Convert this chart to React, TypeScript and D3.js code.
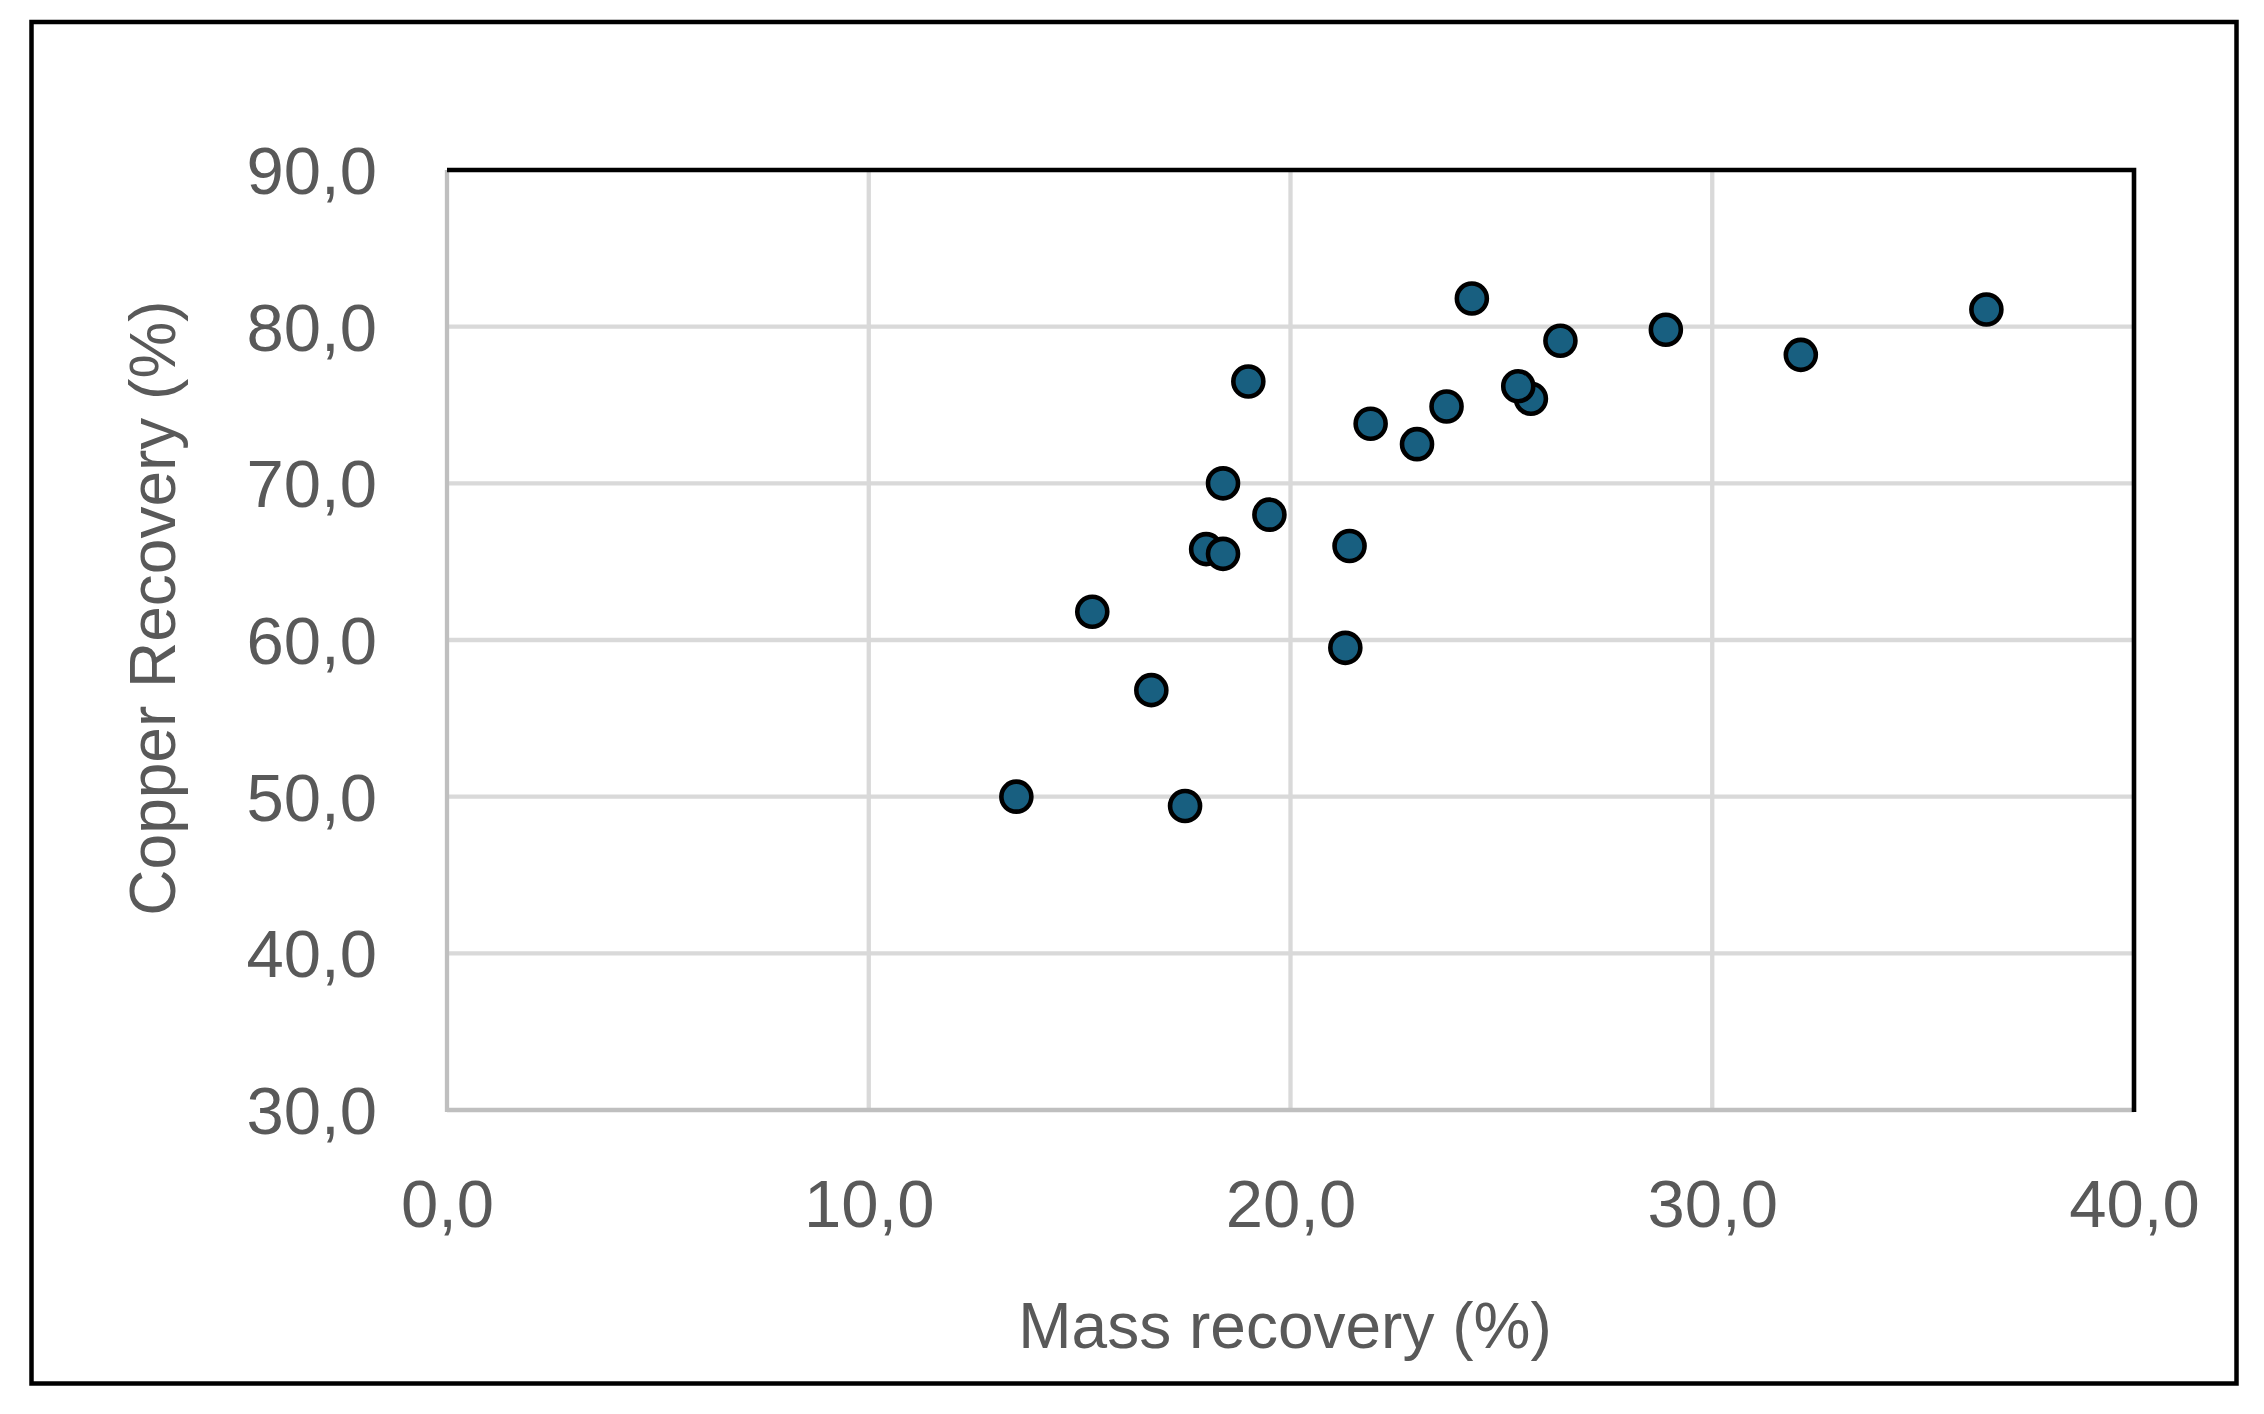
import React, { useRef, useEffect } from "react";
import * as d3 from "d3";

// Mass recovery (%) vs copper recovery (%) per test
const massRecovery = [
  13.5, 15.3, 16.7, 17.5, 18.0, 18.4, 18.4, 19.0, 19.5, 21.3, 21.4, 21.9, 23.0, 23.7, 24.3, 25.7, 25.4, 26.4,
  28.9, 32.1, 36.5,
];
const copperRecovery = [
  50.0, 61.8, 56.8, 49.4, 65.8, 65.5, 70.0, 76.5, 68.0, 59.5, 66.0, 73.8, 72.5, 74.9, 81.8, 75.4, 76.2, 79.1,
  79.8, 78.2, 81.1,
];
const xTicks = [0, 10, 20, 30, 40];
const yTicks = [30, 40, 50, 60, 70, 80, 90];

const width = 2264;
const height = 1414;
const font = "'Liberation Sans', Arial, sans-serif";
const textColor = "#595959";

const locale = d3.formatLocale({ decimal: ",", thousands: ".", grouping: [3], currency: ["", ""] });
const fmt = locale.format(".1f");

const ScatterChart = () => {
  const svgRef = useRef<SVGSVGElement>(null);

  useEffect(() => {
    const svg = d3.select(svgRef.current);
    svg.selectAll("*").remove();

    const plot = { left: 447, right: 2134, top: 170, bottom: 1110 };

    const xScale = d3.scaleLinear().domain([0, 40]).range([plot.left, plot.right]);
    const yScale = d3.scaleLinear().domain([30, 90]).range([plot.bottom, plot.top]);

    svg.append("rect").attr("width", width).attr("height", height).attr("fill", "#fff");

    // outer chart frame
    svg
      .append("rect")
      .attr("x", 31.5)
      .attr("y", 22)
      .attr("width", 2205)
      .attr("height", 1361.5)
      .attr("fill", "none")
      .attr("stroke", "#000")
      .attr("stroke-width", 4.5);

    // gridlines
    const grid = svg.append("g").attr("stroke", "#d9d9d9").attr("stroke-width", 4.3);
    grid
      .selectAll(".hgrid")
      .data(yTicks.filter((d) => d > 30 && d < 90))
      .enter()
      .append("line")
      .attr("x1", plot.left)
      .attr("x2", plot.right)
      .attr("y1", (d) => yScale(d))
      .attr("y2", (d) => yScale(d));
    grid
      .selectAll(".vgrid")
      .data(xTicks.filter((d) => d > 0 && d < 40))
      .enter()
      .append("line")
      .attr("y1", plot.top)
      .attr("y2", plot.bottom)
      .attr("x1", (d) => xScale(d))
      .attr("x2", (d) => xScale(d));

    // axis lines
    const axes = svg.append("g").attr("stroke", "#bfbfbf").attr("stroke-width", 4.3);
    axes.append("line").attr("x1", plot.left).attr("x2", plot.left).attr("y1", plot.top).attr("y2", plot.bottom + 2);
    axes.append("line").attr("x1", plot.left).attr("x2", plot.right).attr("y1", plot.bottom).attr("y2", plot.bottom);

    // plot area border (top and right)
    const border = svg.append("g").attr("stroke", "#000").attr("stroke-width", 4.6).attr("fill", "none");
    border
      .append("path")
      .attr("d", `M${plot.left},${plot.top}H${plot.right}V${plot.bottom + 2}`);

    // tick labels
    const yAxis = d3.axisLeft(yScale).tickValues(yTicks).tickSize(0).tickPadding(70).tickFormat((d) => fmt(d as number));
    const gy = svg.append("g").attr("transform", `translate(${plot.left},0)`).call(yAxis);
    gy.select(".domain").remove();
    gy.selectAll("text")
      .attr("font-family", font)
      .attr("font-size", 67)
      .attr("fill", textColor)
      .attr("dy", "0.35em");

    const xAxis = d3.axisBottom(xScale).tickValues(xTicks).tickSize(0).tickPadding(69).tickFormat((d) => fmt(d as number));
    const gx = svg.append("g").attr("transform", `translate(0,${plot.bottom})`).call(xAxis);
    gx.select(".domain").remove();
    gx.selectAll("text").attr("font-family", font).attr("font-size", 67).attr("fill", textColor);

    // axis titles
    svg
      .append("text")
      .attr("x", 1285)
      .attr("y", 1348)
      .attr("text-anchor", "middle")
      .attr("font-family", font)
      .attr("font-size", 64)
      .attr("fill", textColor)
      .text("Mass recovery (%)");

    svg
      .append("text")
      .attr("transform", "translate(175,608) rotate(-90)")
      .attr("text-anchor", "middle")
      .attr("font-family", font)
      .attr("font-size", 64)
      .attr("fill", textColor)
      .text("Copper Recovery (%)");

    // data points
    svg
      .append("g")
      .selectAll("circle")
      .data(massRecovery)
      .enter()
      .append("circle")
      .attr("cx", (d) => xScale(d))
      .attr("cy", (d, i) => yScale(copperRecovery[i]))
      .attr("r", 15)
      .attr("fill", "#185f80")
      .attr("stroke", "#000")
      .attr("stroke-width", 4.6);
  }, []);

  return (
    <svg
      ref={svgRef}
      width={width}
      height={height}
      style={{ position: "absolute", left: 0, top: 0, display: "block" }}
    ></svg>
  );
};

export default function App() {
  return <ScatterChart />;
}
